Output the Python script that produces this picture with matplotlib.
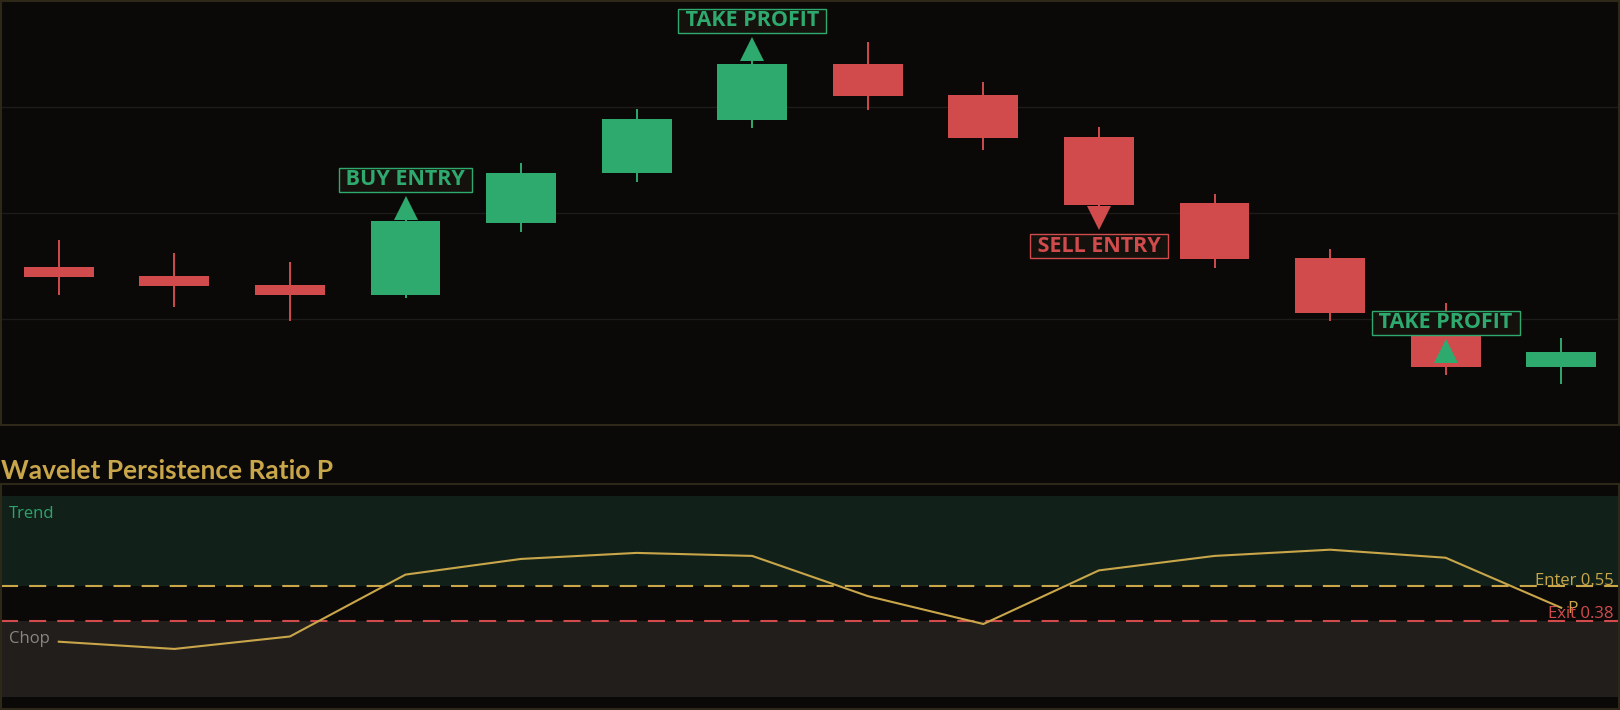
import matplotlib
matplotlib.use("Agg")
import matplotlib.pyplot as plt
import numpy as np
from matplotlib.transforms import offset_copy

plt.rcParams["font.family"] = ["Open Sans", "DejaVu Sans"]

# candles
opens = [101.49, 101.41, 101.32, 101.23, 101.91, 102.38, 102.88, 103.41, 103.11, 102.72, 102.09, 101.58, 101.07, 100.55]
highs = [101.75, 101.62, 101.54, 101.94, 102.47, 102.98, 103.44, 103.61, 103.24, 102.81, 102.18, 101.66, 101.15, 100.82]
lows = [101.23, 101.11, 100.98, 101.20, 101.82, 102.29, 102.80, 102.97, 102.59, 102.06, 101.48, 100.98, 100.47, 100.39]
closes = [101.40, 101.31, 101.23, 101.92, 102.38, 102.89, 103.41, 103.10, 102.71, 102.08, 101.57, 101.06, 100.55, 100.69]

# signals
sig_idx = [3, 6, 9, 12]
sig_text = ["BUY ENTRY", "TAKE PROFIT", "SELL ENTRY", "TAKE PROFIT"]
sig_dir = ["up", "up", "down", "up"]
sig_price = [101.94, 103.44, 102.06, 100.59]

# persistence ratio
p_ratio = [0.275, 0.239, 0.301, 0.609, 0.687, 0.717, 0.702, 0.502, 0.363, 0.630, 0.702, 0.733, 0.693, 0.444]
enter_lvl = 0.55
exit_lvl = 0.38

BG = "#0a0908"
BORDER = "#2e2818"
GREEN = "#2eaa6e"
RED = "#d14b4d"
GOLD = "#c9a64a"

W, H = 1620, 710
fig = plt.figure(figsize=(W / 100, H / 100), dpi=100, facecolor=BG)

ax1 = fig.add_axes([1 / W, 1 - 425 / H, 1618 / W, 424 / H], facecolor=BG)
ax2 = fig.add_axes([1 / W, 1 - 709 / H, 1618 / W, 225 / H], facecolor=BG)

for ax in (ax1, ax2):
    ax.set_xlim(-0.5, len(opens) - 0.5)
    ax.tick_params(left=False, bottom=False, labelleft=False, labelbottom=False)
    for sp in ax.spines.values():
        sp.set_color(BORDER)
        sp.set_linewidth(1.5)

# price panel
ax1.set_ylim(100.0, 104.0)
ax1.set_yticks([101, 102, 103])
ax1.set_xticks([])
ax1.grid(axis="y", color="#1e1c19", linewidth=1)

x = np.arange(len(opens))
o = np.array(opens)
c = np.array(closes)
cols = [GREEN if cc >= oo else RED for oo, cc in zip(o, c)]
ax1.vlines(x, lows, highs, colors=cols, linewidth=1.4, zorder=2)
ax1.bar(x, np.abs(c - o), bottom=np.minimum(o, c), width=0.605, color=cols, linewidth=0, zorder=3)

for i, txt, d, pr in zip(sig_idx, sig_text, sig_dir, sig_price):
    col = RED if txt.startswith("SELL") else GREEN
    sgn = 1 if d == "up" else -1
    tr = offset_copy(ax1.transData, fig=fig, y=sgn * 8.3, units="points")
    ax1.plot([i], [pr], marker="^" if d == "up" else "v", markersize=17.5,
             color=col, markeredgewidth=0, transform=tr, zorder=5)
    ax1.annotate(f" {txt} ", xy=(i, pr), xytext=(0, sgn * 28.5), textcoords="offset points",
                 ha="center", va="center", fontsize=15.5, fontweight="bold", color=col, zorder=6,
                 bbox=dict(boxstyle="square,pad=0.07", fc="#15120e", ec=col, lw=1))

# ratio panel
ax2.set_ylim(-0.06, 1.06)
ax2.set_yticks([])
ax2.set_xticks([])
ax2.axhspan(enter_lvl, 1.0, color="#11211a", zorder=0, linewidth=0)
ax2.axhspan(0.0, exit_lvl, color="#211e1c", zorder=0, linewidth=0)
ax2.axhline(enter_lvl, color=GOLD, linewidth=1.5, linestyle=(0, (8.2, 5.3)), zorder=2)
ax2.axhline(exit_lvl, color=RED, linewidth=1.5, linestyle=(0, (8.2, 5.3)), zorder=2)
ax2.plot(x, p_ratio, color=GOLD, linewidth=1.5, zorder=3)
ax2.annotate("P", xy=(x[-1], p_ratio[-1]), xytext=(4, -1), textcoords="offset points",
             ha="left", va="center", fontsize=12.5, color=GOLD)
ax2.text(0.005, 0.849, "Trend", transform=ax2.transAxes, ha="left", va="baseline", fontsize=12, color="#2ea36b")
ax2.text(0.005, 0.293, "Chop", transform=ax2.transAxes, ha="left", va="baseline", fontsize=12, color="#8a8580")
ax2.text(0.9965, enter_lvl + 0.007, f"Enter {enter_lvl:.2f}", transform=ax2.get_yaxis_transform(),
         ha="right", va="baseline", fontsize=12, color=GOLD)
ax2.text(0.9965, exit_lvl + 0.012, f"Exit {exit_lvl:.2f}", transform=ax2.get_yaxis_transform(),
         ha="right", va="baseline", fontsize=12, color=RED)

fig.text(1 / W, 1 - 479 / H, "Wavelet Persistence Ratio P", ha="left", va="baseline",
         fontsize=19, fontweight="bold", color=GOLD, family=["Lato", "DejaVu Sans"])

fig.savefig("out.png", dpi=100, facecolor=BG)
